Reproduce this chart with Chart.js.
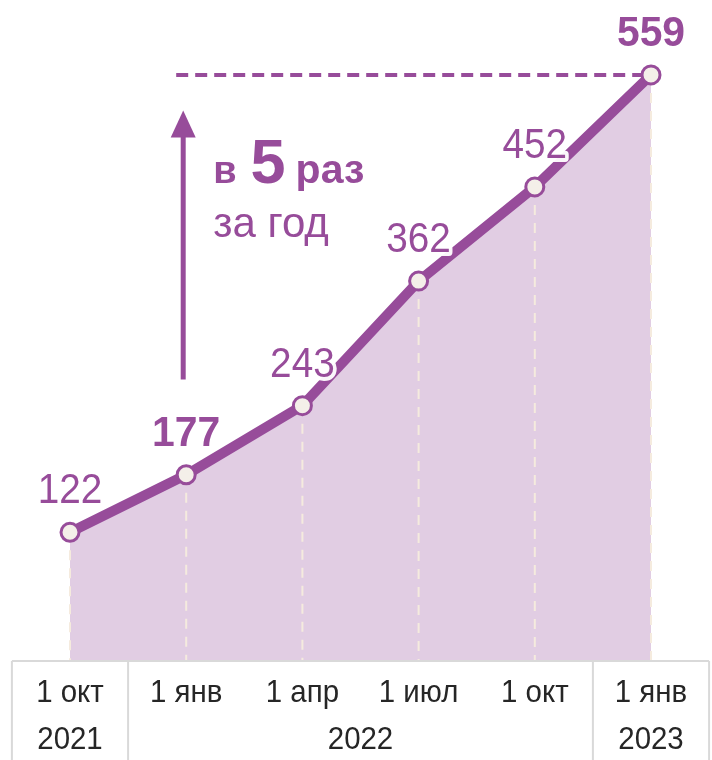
<!DOCTYPE html>
<html>
<head>
<meta charset="utf-8">
<script src="https://cdn.jsdelivr.net/npm/chart.js@4"></script>
<style>
  body { margin: 0; background: #fff; }
  #wrap { width: 712px; height: 760px; position: relative; }
</style>
</head>
<body>
<div id="wrap"><canvas id="chart"></canvas></div>
<script>
// data
const categories = ['1 окт', '1 янв', '1 апр', '1 июл', '1 окт', '1 янв'];
const values = [122, 177, 243, 362, 452, 559];
const boldLabels = [false, true, false, false, false, true];
const years = ['2021', '2022', '2023'];
const yearFrom = [0, 1, 5];
const yearTo = [0, 4, 5];

// arrow "в 5 раз за год" (in y values)
const arrowBottom = 268;
const arrowTop = 525;

const PURPLE = '#974c9a';
const FONT = "'Liberation Sans', Arial, sans-serif";

// draw text a little narrower, like the original
function narrowText(ctx, txt, x, y, sx, stroke) {
  ctx.save();
  ctx.translate(x, y);
  ctx.scale(sx, 1);
  if (stroke) ctx.strokeText(txt, 0, 0);
  ctx.fillText(txt, 0, 0);
  ctx.restore();
}

const decor = {
  id: 'decor',
  beforeDatasetDraw(chart) {
    const ctx = chart.ctx;
    const x = chart.scales.x, y = chart.scales.y;
    const bottom = chart.chartArea.bottom;
    ctx.save();
    // vertical guides
    ctx.strokeStyle = '#f5ebde';
    ctx.lineWidth = 2;
    ctx.setLineDash([10, 8]);
    values.forEach((v, i) => {
      const px = x.getPixelForValue(i);
      ctx.beginPath();
      ctx.moveTo(px, y.getPixelForValue(v));
      ctx.lineTo(px, bottom);
      ctx.stroke();
    });
    // dashed level of last value
    const last = values.length - 1;
    const ly = y.getPixelForValue(values[last]);
    ctx.strokeStyle = PURPLE;
    ctx.lineWidth = 4;
    ctx.setLineDash([12, 7]);
    ctx.beginPath();
    ctx.moveTo(x.getPixelForValue(1) - 10, ly);
    ctx.lineTo(x.getPixelForValue(last), ly);
    ctx.stroke();
    ctx.setLineDash([]);
    // arrow
    const ax = x.getPixelForValue(1) - 3;
    const ab = y.getPixelForValue(arrowBottom);
    const at = y.getPixelForValue(arrowTop);
    ctx.lineWidth = 5;
    ctx.beginPath();
    ctx.moveTo(ax, ab);
    ctx.lineTo(ax, at + 20);
    ctx.stroke();
    ctx.fillStyle = PURPLE;
    ctx.beginPath();
    ctx.moveTo(ax, at);
    ctx.lineTo(ax - 12.5, at + 27);
    ctx.lineTo(ax + 12.5, at + 27);
    ctx.closePath();
    ctx.fill();
    // caption
    const tx = ax + 30;
    ctx.textBaseline = 'alphabetic';
    ctx.textAlign = 'left';
    let cx = tx;
    ctx.font = 'bold 38px ' + FONT;
    ctx.fillText('в', cx, at + 72);
    cx += ctx.measureText('в').width + 14;
    ctx.font = 'bold 63px ' + FONT;
    ctx.fillText('5', cx, at + 72);
    cx += ctx.measureText('5').width + 10;
    ctx.font = 'bold 41px ' + FONT;
    ctx.fillText('раз', cx, at + 72);
    ctx.font = '42px ' + FONT;
    ctx.fillText('за год', tx, at + 126);
    ctx.restore();
  },
  afterDatasetsDraw(chart) {
    const ctx = chart.ctx;
    const meta = chart.getDatasetMeta(0);
    ctx.save();
    ctx.textAlign = 'center';
    ctx.textBaseline = 'alphabetic';
    ctx.lineJoin = 'round';
    meta.data.forEach((pt, i) => {
      ctx.font = (boldLabels[i] ? 'bold ' : '') + '43px ' + FONT;
      ctx.strokeStyle = 'rgba(255,255,255,0.95)';
      ctx.lineWidth = 8;
      ctx.fillStyle = PURPLE;
      narrowText(ctx, String(values[i]), pt.x, pt.y - 29, boldLabels[i] ? 0.95 : 0.9, true);
    });
    ctx.restore();
  },
  afterDraw(chart) {
    const ctx = chart.ctx;
    const x = chart.scales.x;
    const top = chart.chartArea.bottom + 1;
    const end = chart.height;
    const step = x.getPixelForValue(1) - x.getPixelForValue(0);
    const left = x.getPixelForValue(0) - step / 2;
    const right = x.getPixelForValue(categories.length - 1) + step / 2;
    ctx.save();
    ctx.strokeStyle = '#d9d9d9';
    ctx.lineWidth = 2;
    ctx.beginPath();
    ctx.moveTo(left, top);
    ctx.lineTo(right, top);
    const cuts = [left, right];
    yearTo.slice(0, -1).forEach(t => cuts.push(x.getPixelForValue(t) + step / 2));
    cuts.forEach(cx => {
      ctx.moveTo(cx, top);
      ctx.lineTo(cx, end);
    });
    ctx.stroke();
    ctx.fillStyle = '#262626';
    ctx.font = '32px ' + FONT;
    ctx.textAlign = 'center';
    ctx.textBaseline = 'alphabetic';
    categories.forEach((c, i) => narrowText(ctx, c, x.getPixelForValue(i), top + 41, 0.92));
    years.forEach((yr, i) => {
      const cx = (x.getPixelForValue(yearFrom[i]) + x.getPixelForValue(yearTo[i])) / 2;
      narrowText(ctx, yr, cx, top + 88, 0.92);
    });
    ctx.restore();
  }
};

new Chart(document.getElementById('chart'), {
  type: 'line',
  data: {
    labels: categories,
    datasets: [{
      data: values,
      fill: 'origin',
      backgroundColor: '#e1cde3',
      borderColor: PURPLE,
      borderWidth: 10,
      pointRadius: 9,
      pointBorderWidth: 3,
      pointBackgroundColor: '#f4efe9',
      pointBorderColor: PURPLE,
      tension: 0,
      clip: false
    }]
  },
  options: {
    responsive: true,
    maintainAspectRatio: false,
    animation: false,
    layout: { padding: { left: 70, right: 61, top: 32, bottom: 100 } },
    scales: {
      x: { display: false, offset: false },
      y: { display: false, min: 0, max: 600 }
    },
    plugins: {
      legend: { display: false },
      tooltip: { enabled: false }
    }
  },
  plugins: [decor]
});
</script>
</body>
</html>
